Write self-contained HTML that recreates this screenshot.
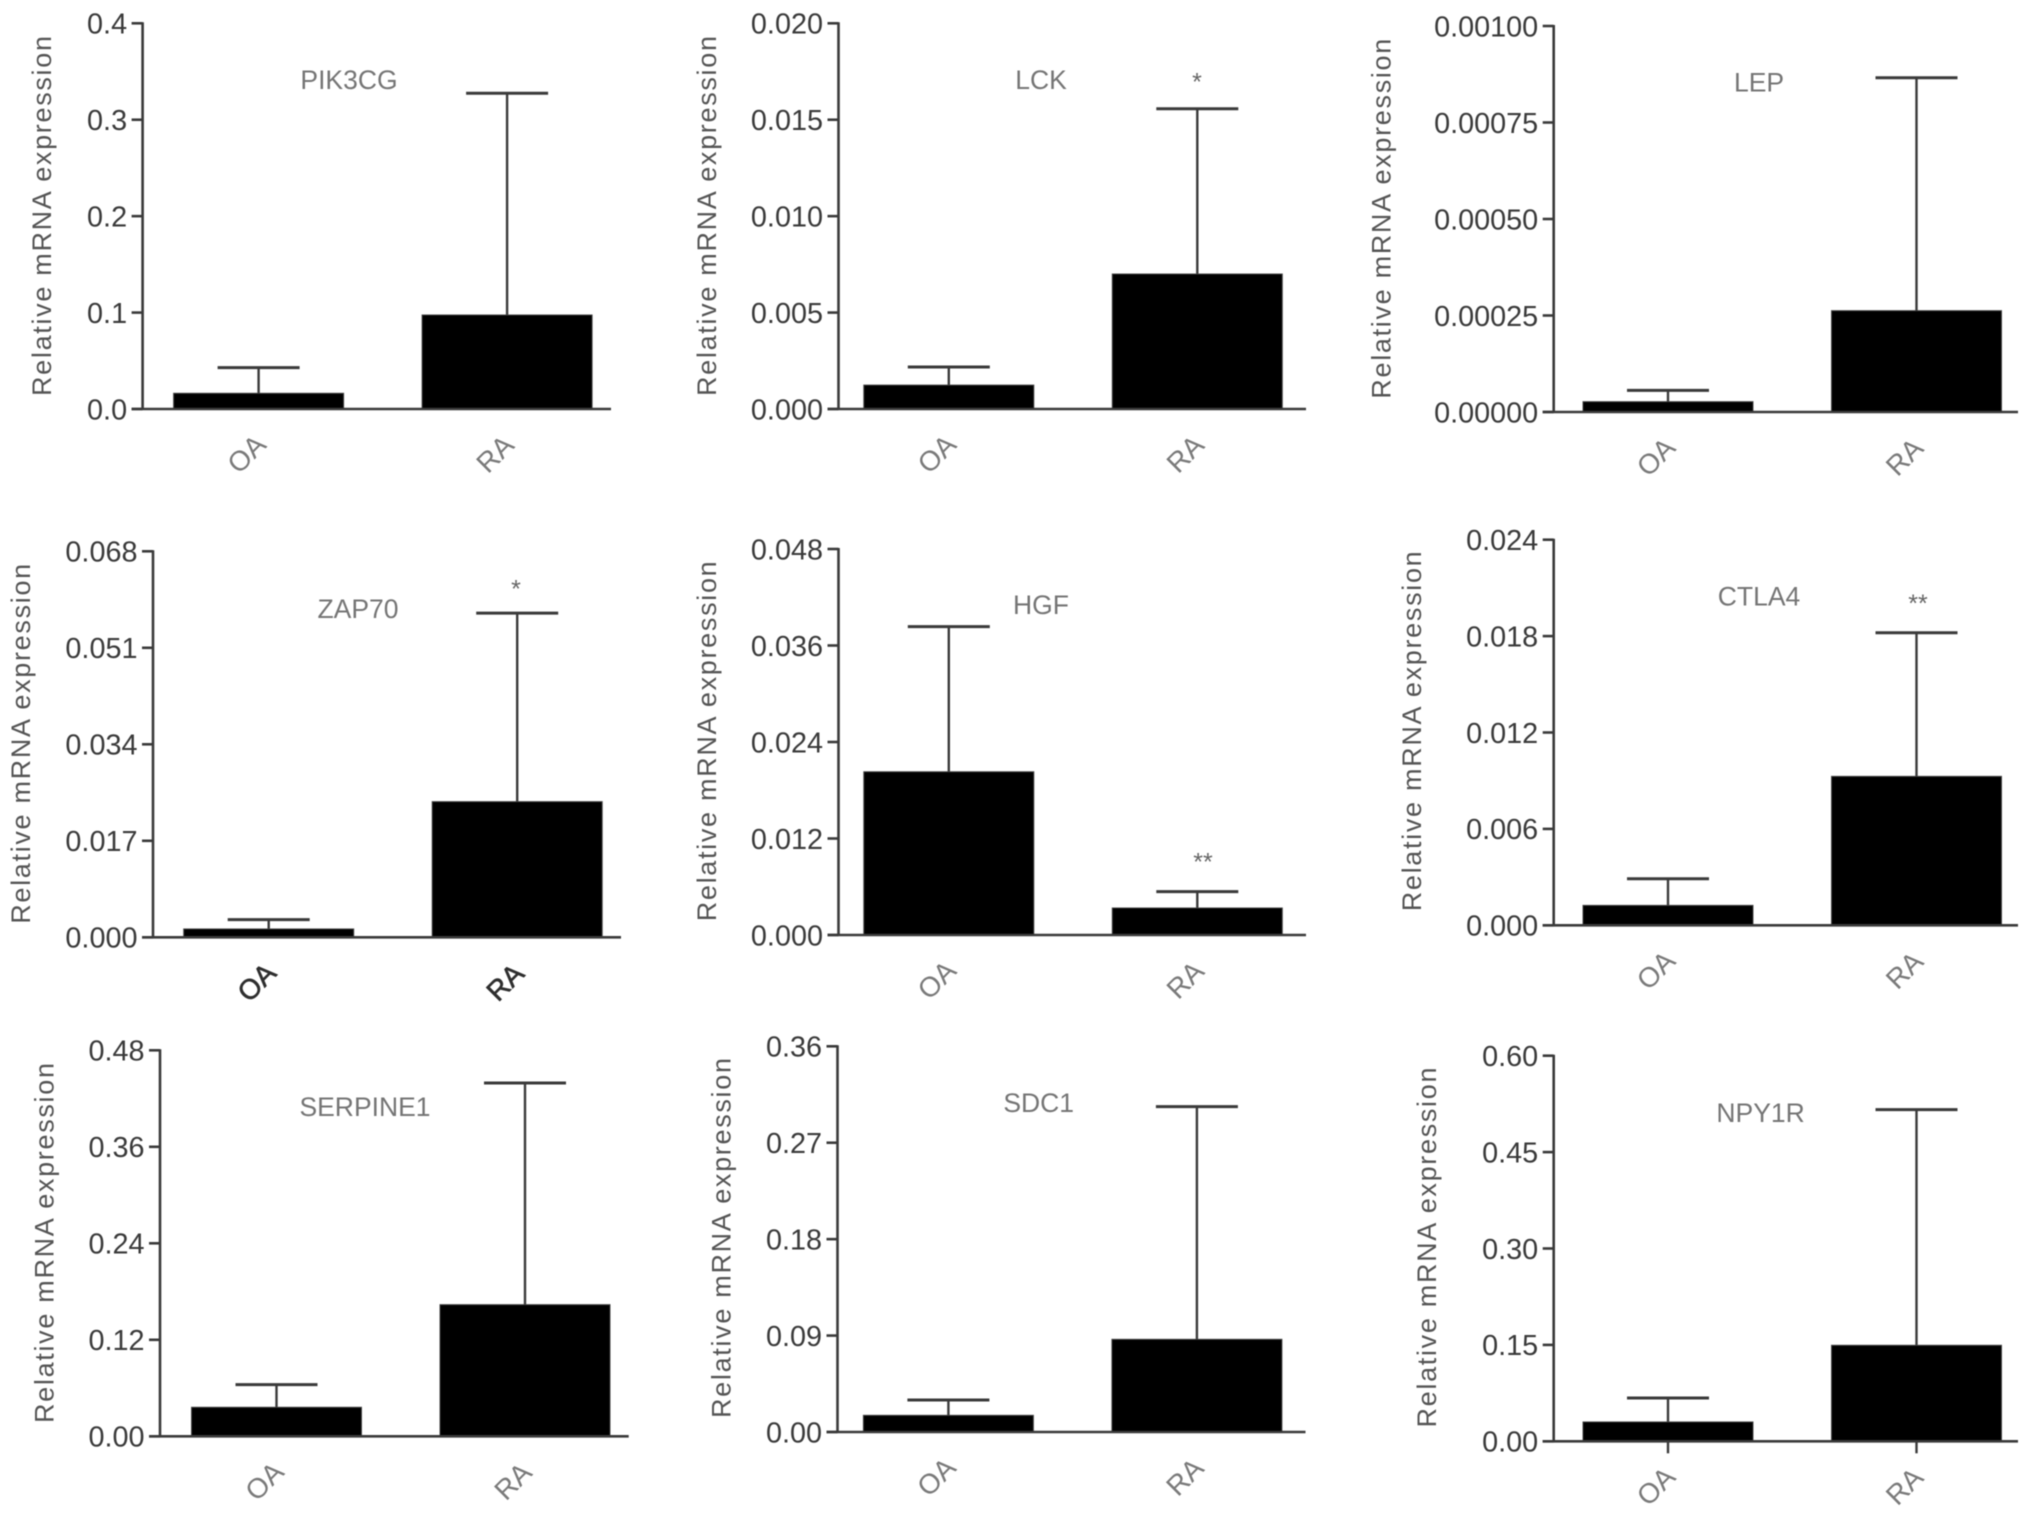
<!DOCTYPE html>
<html lang="en">
<head>
<meta charset="utf-8">
<title>Relative mRNA expression, OA vs RA</title>
<style>
  html, body { margin: 0; padding: 0; background: #fff; }
  #figure { display: block; width: 2031px; height: 1518px; filter: blur(0.6px); }
  text { font-family: "Liberation Sans", sans-serif; }
</style>
</head>
<body>
<svg id="figure" xmlns="http://www.w3.org/2000/svg" width="2031" height="1518" viewBox="0 0 2031 1518"></svg>
<script>
// ---- Data ----
const genes = ['PIK3CG', 'LCK', 'LEP', 'ZAP70', 'HGF', 'CTLA4', 'SERPINE1', 'SDC1', 'NPY1R'];
const categories = ['OA', 'RA'];
const tickLabels = [
  ['0.0', '0.1', '0.2', '0.3', '0.4'],
  ['0.000', '0.005', '0.010', '0.015', '0.020'],
  ['0.00000', '0.00025', '0.00050', '0.00075', '0.00100'],
  ['0.000', '0.017', '0.034', '0.051', '0.068'],
  ['0.000', '0.012', '0.024', '0.036', '0.048'],
  ['0.000', '0.006', '0.012', '0.018', '0.024'],
  ['0.00', '0.12', '0.24', '0.36', '0.48'],
  ['0.00', '0.09', '0.18', '0.27', '0.36'],
  ['0.00', '0.15', '0.30', '0.45', '0.60']
];
const oaMeans = [0.0163, 0.00124, 0.0000268, 0.00147, 0.0203, 0.00124, 0.0361, 0.01556, 0.0301];
const raMeans = [0.0975, 0.0070, 0.0002625, 0.0239, 0.00336, 0.00927, 0.1637, 0.0865, 0.1494];
const oaUpper = [0.0429, 0.00218, 0.0000561, 0.00311, 0.03834, 0.0029, 0.0642, 0.0299, 0.0674];
const raUpper = [0.3274, 0.01557, 0.000866, 0.0571, 0.00539, 0.01821, 0.4394, 0.3037, 0.516];
const significance = ['', '*', '', '*', '**', '**', '', '', ''];

// ---- Panel layout (pixels) ----
const axisLeft = [142.6, 838.5, 1553.7, 153, 838.5, 1553.7, 160, 837.5, 1553.7];
const axisRight = [611, 1306, 2018, 621, 1306, 2018, 628.7, 1305.5, 2018];
const axisTop = [23.3, 23.3, 26, 551.3, 549, 539.7, 1050.3, 1046.3, 1055.7];
const axisBase = [409, 409, 412, 937.3, 935, 925.3, 1436.3, 1432, 1441.3];
const firstBarCentre = [258.6, 948.8, 1668, 268.7, 948.8, 1668, 276.5, 948.4, 1668];
const titleCenterX = [41, 706, 1380.5, 19.8, 706, 1410.8, 43.7, 720.7, 1426];
const titleCenterY = [216, 216, 218.7, 743.8, 741.3, 731.3, 1243, 1238, 1247.5];
const geneX = [349, 1041, 1759, 358, 1041, 1759, 365, 1038.7, 1760.6];
const geneY = [80, 80, 82.7, 609, 605, 596.7, 1107, 1103, 1113];
const starX = [0, 1197, 0, 516, 1203, 1918, 0, 0, 0];
const starY = [0, 80.5, 0, 587.5, 860.5, 602, 0, 0, 0];

const NS = 'http://www.w3.org/2000/svg';
const svg = document.getElementById('figure');
const AXIS = '#3a3a3a';

function make(parent, tag, attrs, text) {
  const el = document.createElementNS(NS, tag);
  for (const k in attrs) el.setAttribute(k, attrs[k]);
  if (text !== undefined) el.textContent = text;
  parent.appendChild(el);
  return el;
}

// y axis function: value -> pixel
function yScale(p, value) {
  const max = parseFloat(tickLabels[p][tickLabels[p].length - 1]);
  return axisBase[p] - (value / max) * (axisBase[p] - axisTop[p]);
}
// x axis function: category index -> bar centre pixel
function xScale(p, i) {
  return firstBarCentre[p] + i * 248.5;
}

genes.forEach(function (gene, p) {
  const g = make(svg, 'g', {});
  
  

  // y-axis title
  const bx = titleCenterX[p] + 10;
  const ty = make(g, 'text', {
    transform: 'translate(' + bx + ',' + titleCenterY[p] + ') rotate(-90)',
    'text-anchor': 'middle', 'font-size': 27, fill: '#555',
    textLength: 360, lengthAdjust: 'spacing'
  }, 'Relative mRNA expression');
  
  

  // bars and error bars
  const means = [oaMeans[p], raMeans[p]];
  const uppers = [oaUpper[p], raUpper[p]];
  categories.forEach(function (cat, i) {
    const cx = xScale(p, i);
    const barTop = yScale(p, means[i]);
    const capY = yScale(p, uppers[i]);

    const stem = make(g, 'line', { x1: cx, x2: cx, y1: barTop, y2: capY, stroke: AXIS, 'stroke-width': 2.4 });
    
    

    const cap = make(g, 'line', { x1: cx - 41, x2: cx + 41, y1: capY, y2: capY, stroke: AXIS, 'stroke-width': 3 });
    
    

    const bar = make(g, 'rect', { x: cx - 85, width: 170, y: barTop, height: axisBase[p] - barTop, fill: '#000', stroke: '#444', 'stroke-width': 1 });
    
    

    const bold = p === 3;
    const lx = cx - 12;
    const ly = axisBase[p] + 45;
    const lab = make(g, 'text', {
      transform: 'translate(' + lx + ',' + ly + ') rotate(-45)',
      'text-anchor': 'middle', 'dominant-baseline': 'central', 'font-size': 28,
      fill: bold ? '#2e2e2e' : '#7a7a7a', 'stroke': bold ? '#2e2e2e' : 'none', 'stroke-width': bold ? 0.6 : 0
    }, cat);
    
    

    if (p === 8) {
      const xt = make(g, 'line', { x1: cx, x2: cx, y1: axisBase[p], y2: axisBase[p] + 12, stroke: AXIS, 'stroke-width': 2.4 });
      
      
    }
  });

  // axes
  const yAxis = make(g, 'line', { x1: axisLeft[p], x2: axisLeft[p], y1: axisTop[p] - 1, y2: axisBase[p] + 1, stroke: AXIS, 'stroke-width': 2.6 });
  
  

  const xAxis = make(g, 'line', { x1: axisLeft[p] - 11, x2: axisRight[p], y1: axisBase[p], y2: axisBase[p], stroke: AXIS, 'stroke-width': 2.6 });
  
  

  // y ticks and labels
  tickLabels[p].forEach(function (label) {
    const y = yScale(p, parseFloat(label));
    const t = make(g, 'line', { x1: axisLeft[p] - 11, x2: axisLeft[p], y1: y, y2: y, stroke: AXIS, 'stroke-width': 2.6 });
    
    

    const tl = make(g, 'text', {
      x: axisLeft[p] - 15.5, y: y + 10.3, 'text-anchor': 'end', 'font-size': 28.8, fill: '#3a3a3a'
    }, label);
    
    
  });

  // gene label
  const gl = make(g, 'text', {
    x: geneX[p], y: geneY[p] + 9, 'text-anchor': 'middle', 'font-size': 26.5, fill: '#757575'
  }, gene);
  
  

  // significance marker
  if (significance[p]) {
    const st = make(g, 'text', {
      x: starX[p], y: starY[p] + 10, 'text-anchor': 'middle', 'font-size': 25, fill: '#666'
    }, significance[p]);
    
    
  }
});
</script>
</body>
</html>
